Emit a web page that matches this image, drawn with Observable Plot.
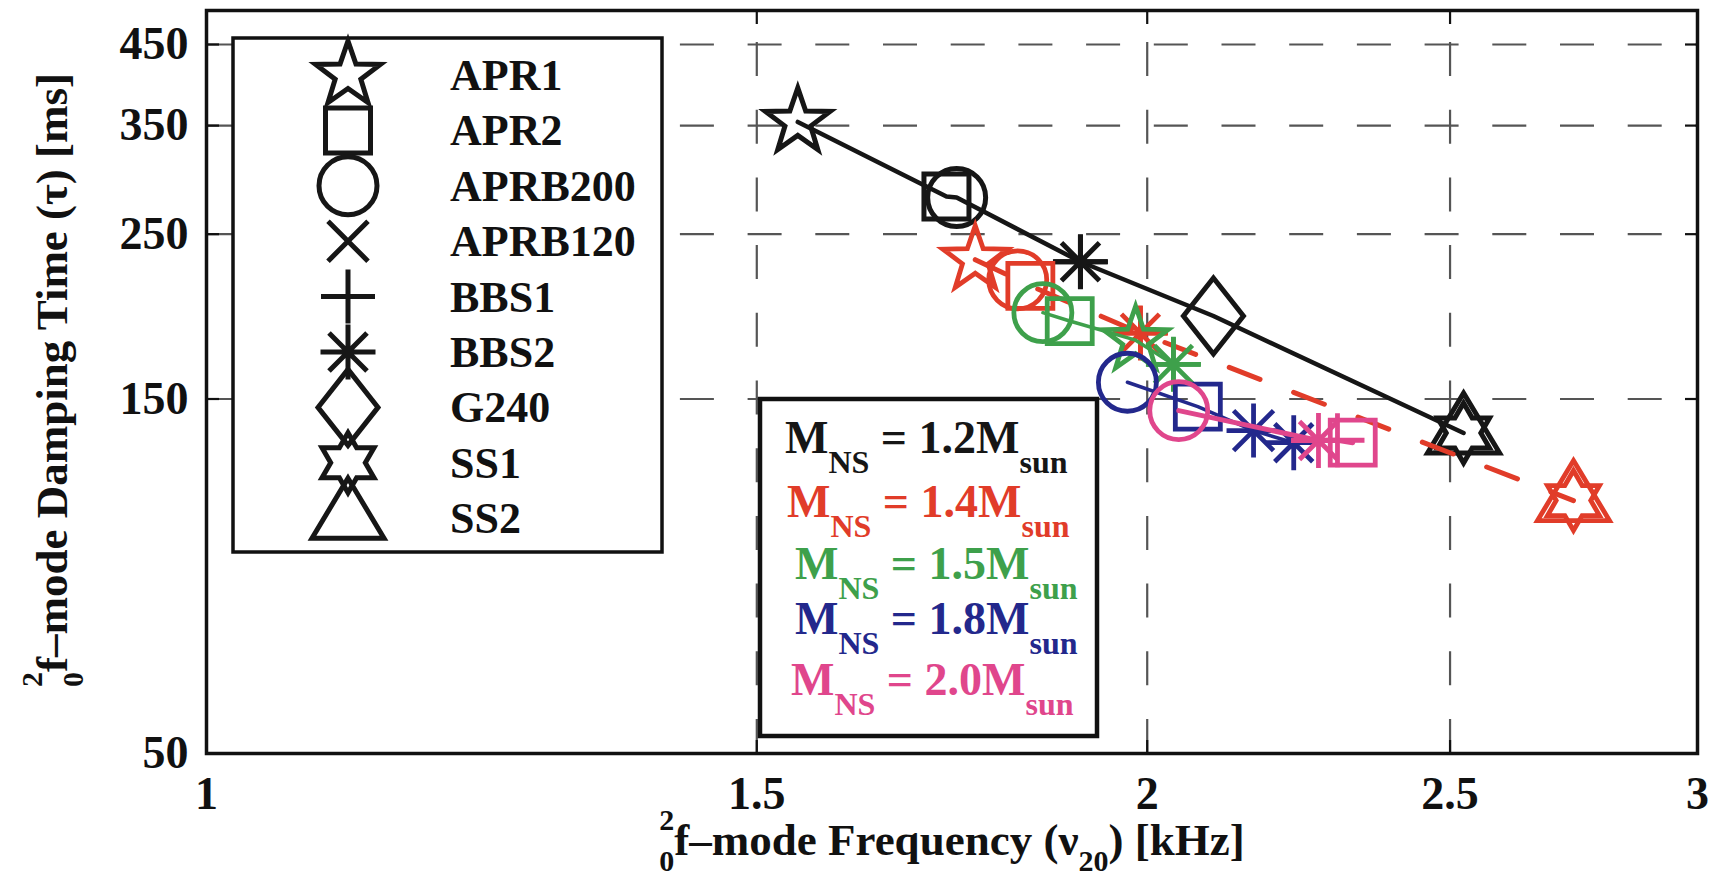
<!DOCTYPE html>
<html>
<head>
<meta charset="utf-8">
<script src="https://cdn.jsdelivr.net/npm/d3@7"></script>
<script src="https://cdn.jsdelivr.net/npm/@observablehq/plot@0.6"></script>
<style>
  body { margin: 0; background: #fff; }
</style>
</head>
<body>
<div id="chart"></div>
<script>
// Equations of state, one marker each
const eosNames = ["APR1", "APR2", "APRB200", "APRB120", "BBS1", "BBS2", "G240", "SS1", "SS2"];

// Neutron-star masses (in solar masses) and their colours
const massLabels = ["1.2", "1.4", "1.5", "1.8", "2.0"];
const massColors = ["#161616", "#e13c29", "#3ea04b", "#23288c", "#e0468c"];

// f-mode frequency (kHz) and damping time (ms) for each mass sequence
const eos12  = ["APR1", "APR2", "APRB200", "BBS1", "BBS2", "G240", "SS1", "SS2"];
const freq12 = [1.546, 1.725, 1.738, 1.904, 1.904, 2.100, 2.525, 2.525];
const tau12  = [354, 281, 280, 229.5, 229.5, 194, 135, 135];

const eos14  = ["APR1", "APRB200", "APR2", "BBS1", "BBS2", "SS1", "SS2"];
const freq14 = [1.762, 1.818, 1.835, 1.990, 1.990, 2.738, 2.738];
const tau14  = [231, 217, 213, 184, 184, 109.5, 109.5];

const eos15  = ["APRB200", "APR2", "APR1", "BBS1", "BBS2"];
const freq15 = [1.852, 1.889, 1.983, 2.039, 2.039];
const tau15  = [196, 191, 180, 167, 167];

const eos18  = ["APRB200", "APR2", "APRB120", "BBS1", "BBS2"];
const freq18 = [1.971, 2.076, 2.163, 2.163, 2.228];
const tau18  = [158, 146.5, 136, 136, 131];

const eos20  = ["APRB200", "BBS2", "BBS1", "APR2"];
const freq20 = [2.047, 2.269, 2.301, 2.327];
const tau20  = [144.7, 131.9, 132, 131];

// Axis ticks and grid lines
const xTicks = [1, 1.5, 2, 2.5, 3];
const yTicks = [50, 150, 250, 350, 450];
const xGrid = [1.5, 2, 2.5];
const yGrid = [150, 250, 350, 450];

// ---- open marker shapes (sized from a nominal radius U) ----
const U = 30;
function sym(drawUnit) {
  return { draw(ctx, size) { drawUnit(ctx, Math.sqrt(size / Math.PI) / U); } };
}
function starPath(ctx, k, n, ro, ri) {
  for (let i = 0; i < 2 * n; i++) {
    const a = -Math.PI / 2 + i * Math.PI / n;
    const r = (i % 2 ? ri : ro) * k;
    const x = r * Math.cos(a), y = r * Math.sin(a);
    if (i) ctx.lineTo(x, y); else ctx.moveTo(x, y);
  }
  ctx.closePath();
}
const symbols = {
  APR1: sym((c, k) => starPath(c, k, 5, 34, 13.5)),
  APR2: sym((c, k) => { const h = 22.5 * k; c.moveTo(-h, -h); c.lineTo(h, -h); c.lineTo(h, h); c.lineTo(-h, h); c.closePath(); }),
  APRB200: sym((c, k) => { const r = 29 * k; c.moveTo(r, 0); c.arc(0, 0, r, 0, 2 * Math.PI); }),
  APRB120: sym((c, k) => { const h = 20 * k; c.moveTo(-h, -h); c.lineTo(h, h); c.moveTo(-h, h); c.lineTo(h, -h); }),
  BBS1: sym((c, k) => { const h = 27 * k; c.moveTo(-h, 0); c.lineTo(h, 0); c.moveTo(0, -h); c.lineTo(0, h); }),
  BBS2: sym((c, k) => {
    const h = 27.5 * k, d = 19 * k;
    c.moveTo(-h, 0); c.lineTo(h, 0); c.moveTo(0, -h); c.lineTo(0, h);
    c.moveTo(-d, -d); c.lineTo(d, d); c.moveTo(-d, d); c.lineTo(d, -d);
  }),
  G240: sym((c, k) => { const w = 30 * k, h = 38 * k; c.moveTo(0, -h); c.lineTo(w, 0); c.lineTo(0, h); c.lineTo(-w, 0); c.closePath(); }),
  SS1: sym((c, k) => starPath(c, k, 6, 30, 17.3)),
  SS2: sym((c, k) => { c.moveTo(0, -40 * k); c.lineTo(36 * k, 20 * k); c.lineTo(-36 * k, 20 * k); c.closePath(); })
};

function rows(eos, freq, tau) {
  return eos.map((e, i) => ({eos: e, freq: freq[i], tau: tau[i]}));
}
const series = [
  {data: rows(eos12, freq12, tau12), color: massColors[0], lw: 4.5, mw: 5, dash: null},
  {data: rows(eos14, freq14, tau14), color: massColors[1], lw: 5, mw: 4.8, dash: "33,36"},
  {data: rows(eos15, freq15, tau15), color: massColors[2], lw: 3.5, mw: 4.8, dash: null},
  {data: rows(eos18, freq18, tau18), color: massColors[3], lw: 3.5, mw: 4.8, dash: null},
  {data: rows(eos20, freq20, tau20), color: massColors[4], lw: 5, mw: 4.8, dash: null}
];

const gridStyle = {stroke: "#555", strokeOpacity: 1, strokeWidth: 2.2, strokeDasharray: "34,33.7"};
const tickStyle = {tickSize: -13, tickFormat: () => "", label: null, strokeWidth: 2.2};
const serif = "'Liberation Serif', 'Times New Roman', Times, serif";

const marks = [
  Plot.gridX(xGrid, {...gridStyle, strokeDashoffset: 35.7}),
  Plot.gridY(yGrid, gridStyle),
  Plot.axisX(xTicks, {anchor: "bottom", tickSize: 0, tickPadding: 23, fontSize: 46, fontWeight: "bold", tickFormat: d => String(d), label: null}),
  Plot.axisX(xTicks, {anchor: "bottom", ...tickStyle}),
  Plot.axisX(xTicks, {anchor: "top", ...tickStyle}),
  Plot.axisY(yTicks, {anchor: "left", tickSize: 0, tickPadding: 18, fontSize: 46, fontWeight: "bold", tickFormat: d => String(d), label: null}),
  Plot.axisY(yTicks, {anchor: "left", ...tickStyle}),
  Plot.axisY(yTicks, {anchor: "right", ...tickStyle})
];
for (const s of series) {
  marks.push(Plot.line(s.data, {x: "freq", y: "tau", stroke: s.color, strokeWidth: s.lw, strokeDasharray: s.dash}));
  marks.push(Plot.dot(s.data, {x: "freq", y: "tau", symbol: "eos", r: U, stroke: s.color, strokeWidth: s.mw, fill: "none", strokeLinejoin: "miter"}));
}
marks.push(Plot.frame({stroke: "#111", strokeWidth: 3.5}));

const chart = Plot.plot({
  width: 1728,
  height: 880,
  marginLeft: 206,
  marginRight: 31,
  marginTop: 10,
  marginBottom: 127,
  x: {type: "log", domain: [1, 3]},
  y: {type: "log", domain: [50, 500]},
  symbol: {domain: eosNames, range: eosNames.map(n => symbols[n])},
  style: {fontFamily: serif, fontWeight: "bold", color: "#111", background: "white", overflow: "hidden"},
  marks
});
document.getElementById("chart").appendChild(chart);

// ---- overlays: legends and axis titles ----
const svg = d3.select(chart);

// EOS legend (marker key)
const eosLegend = svg.append("g");
eosLegend.append("rect")
  .attr("x", 233).attr("y", 38).attr("width", 429).attr("height", 514)
  .attr("fill", "white").attr("stroke", "#111").attr("stroke-width", 3.5);
eosNames.forEach((name, i) => {
  const cy = 75 + i * 55.4;
  eosLegend.append("path")
    .attr("d", d3.symbol(symbols[name], U * U * Math.PI)())
    .attr("transform", `translate(348,${cy})`)
    .attr("fill", "none").attr("stroke", massColors[0]).attr("stroke-width", 5)
    .attr("stroke-linejoin", "miter");
  eosLegend.append("text")
    .attr("x", 450).attr("y", cy + 15)
    .attr("text-anchor", "start")
    .attr("font-family", serif).attr("font-weight", "bold").attr("font-size", 44)
    .attr("fill", "#111")
    .text(name);
});

// Mass legend (colour key)
const massLegend = svg.append("g");
massLegend.append("rect")
  .attr("x", 760).attr("y", 399).attr("width", 337).attr("height", 337)
  .attr("fill", "white").attr("stroke", "#111").attr("stroke-width", 4.5);
const rowY = [453, 517, 579, 634, 695];
const rowX = [785, 787, 795, 795, 791];
massLabels.forEach((m, i) => {
  const t = massLegend.append("text")
    .attr("x", rowX[i]).attr("y", rowY[i])
    .attr("text-anchor", "start")
    .attr("font-family", serif).attr("font-weight", "bold").attr("font-size", 46)
    .attr("fill", massColors[i]);
  t.append("tspan").text("M");
  t.append("tspan").attr("font-size", 32).attr("dy", 20).text("NS");
  t.append("tspan").attr("font-size", 46).attr("dy", -20).text(` = ${m}M`);
  t.append("tspan").attr("font-size", 32).attr("dy", 20).text("sun");
});

// Axis titles with the ₀² prefix and ν₂₀ subscript
function axisTitle(g, main1, sub, main2) {
  const t = g.append("text")
    .attr("text-anchor", "middle")
    .attr("font-family", serif).attr("font-weight", "bold").attr("font-size", 45)
    .attr("fill", "#111");
  t.append("tspan").attr("font-size", 30).attr("dy", -25).text("2");
  t.append("tspan").attr("font-size", 30).attr("dx", -15).attr("dy", 41).text("0");
  t.append("tspan").attr("font-size", 45).attr("dy", -16).text(main1);
  if (sub) {
    t.append("tspan").attr("font-size", 30).attr("dy", 16).text(sub);
    t.append("tspan").attr("font-size", 45).attr("dy", -16).text(main2);
  }
  return t;
}
axisTitle(svg.append("g").attr("transform", "translate(952,855)"),
  "f\u2013mode Frequency (\u03bd", "20", ") [kHz]");
axisTitle(svg.append("g").attr("transform", "translate(67,380) rotate(-90)"),
  "f\u2013mode Damping Time (\u03c4) [ms]", null, null);
</script>
</body>
</html>
